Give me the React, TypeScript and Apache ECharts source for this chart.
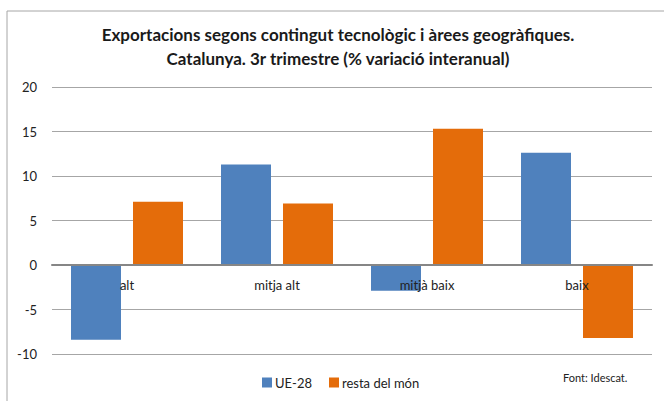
import React, { useEffect, useRef } from "react";
import * as echarts from "echarts";

const categories = ["alt", "mitja alt", "mitjà baix", "baix"];
const ue28 = [-8.4, 11.3, -2.9, 12.6];
const restaMon = [7.1, 6.9, 15.3, -8.2];
const seriesNames = ["UE-28", "resta del món"];
const titleLines = [
  "Exportacions segons contingut tecnològic i àrees geogràfiques.",
  "Catalunya. 3r trimestre (% variació interanual)",
];
const sourceText = "Font: Idescat.";

const FONT = "Lato";
const Y_MIN = -10;
const Y_MAX = 20;
const GRID_TOP = 87;
const GRID_BOTTOM = 47;
const CHART_H = 401;

export default function App() {
  const ref = useRef<HTMLDivElement>(null);
  useEffect(() => {
    if (!ref.current) return;
    const chart = echarts.init(ref.current, undefined, { renderer: "svg" });
    const plotH = CHART_H - GRID_TOP - GRID_BOTTOM;
    const zeroOffset = -((0 - Y_MIN) / (Y_MAX - Y_MIN)) * plotH;
    chart.setOption({
      animation: false,
      backgroundColor: "#ffffff",
      textStyle: { fontFamily: FONT },
      title: {
        text: titleLines.join("\n"),
        left: 338,
        textAlign: "center",
        top: 22,
        padding: 0,
        textStyle: {
          fontFamily: FONT,
          fontSize: 17,
          fontWeight: "bold",
          color: "#1a1a1a",
          lineHeight: 24,
        },
      },
      legend: {
        left: 257,
        top: 371,
        itemWidth: 10,
        itemHeight: 10,
        itemGap: 17,
        icon: "rect",
        textStyle: { fontFamily: FONT, fontSize: 13, color: "#222", padding: [0, 0, 0, -2] },
        data: seriesNames,
      },
      graphic: [
        {
          type: "rect",
          shape: { x: 7, y: 11, width: 700, height: 420 },
          style: { fill: "none", stroke: "#a6a6a6", lineWidth: 1 },
          silent: true,
        },
        {
          type: "text",
          left: 563,
          top: 372,
          style: { text: sourceText, fontFamily: FONT, fontSize: 11, fill: "#222" },
        },
      ],
      grid: { left: 52, right: 12, top: GRID_TOP, bottom: GRID_BOTTOM },
      xAxis: {
        type: "category",
        data: categories,
        offset: zeroOffset,
        axisLine: { onZero: false, lineStyle: { color: "#868686", width: 2 } },
        axisTick: { show: false },
        axisLabel: { fontFamily: FONT, fontSize: 13, color: "#222", margin: 13 },
        z: 10,
      },
      yAxis: {
        type: "value",
        min: Y_MIN,
        max: Y_MAX,
        interval: 5,
        axisLine: { show: false },
        axisTick: { show: false },
        axisLabel: { fontFamily: FONT, fontSize: 13, color: "#222", margin: 15 },
        splitLine: { lineStyle: { color: "#a6a6a6", width: 1 } },
      },
      series: [
        {
          name: seriesNames[0],
          type: "bar",
          data: ue28,
          barWidth: 50,
          barGap: "24%",
          itemStyle: { color: "#4f81bd" },
        },
        {
          name: seriesNames[1],
          type: "bar",
          data: restaMon,
          barWidth: 50,
          itemStyle: { color: "#e46c0a" },
        },
      ],
    });
    return () => chart.dispose();
  }, []);
  return (
    <div
      ref={ref}
      style={{ position: "fixed", left: 0, top: 0, width: 664, height: 401 }}
    />
  );
}
